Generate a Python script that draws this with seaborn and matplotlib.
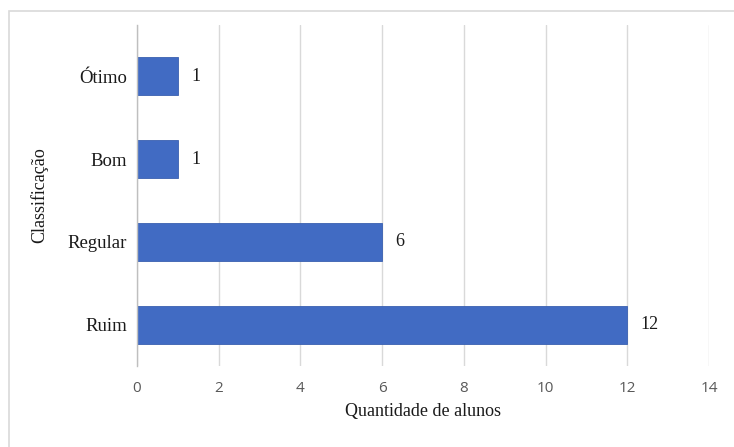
import matplotlib
matplotlib.use("Agg")
import matplotlib.pyplot as plt
import seaborn as sns
import pandas as pd
from matplotlib.patches import Rectangle

categories = ["Ótimo", "Bom", "Regular", "Ruim"]
values = [1, 1, 6, 12]
xticks = [0, 2, 4, 6, 8, 10, 12, 14]

df = pd.DataFrame({"Classificação": categories, "Quantidade de alunos": values})

sns.set_theme(style="white")
plt.rcParams["font.family"] = ["Liberation Serif", "DejaVu Serif"]

fig = plt.figure(figsize=(7.34, 4.47), dpi=100)
ax = fig.add_axes([137 / 734, 1 - 366 / 447, (709 - 137) / 734, (366 - 25) / 447])

sns.barplot(data=df, x="Quantidade de alunos", y="Classificação", orient="h",
            color="#416BC3", saturation=1, width=0.46, ax=ax, edgecolor="#3A60B0",
            linewidth=0.6)

ax.set_xlim(0, 14)
ax.set_ylim(3.5, -0.62)
ax.set_xticks(xticks)
ax.set_xticklabels([str(t) for t in xticks], family=["Open Sans", "DejaVu Sans"],
                   color="#595959", fontsize=11)
ax.tick_params(axis="x", length=0, pad=11)
ax.tick_params(axis="y", length=0, pad=7, labelsize=13.5, labelcolor="#1a1a1a")
ax.grid(axis="x", color="#d9d9d9", linewidth=1)
ax.set_axisbelow(True)
for s in ["top", "right", "bottom"]:
    ax.spines[s].set_visible(False)
ax.spines["left"].set_color("#bfbfbf")
ax.spines["left"].set_linewidth(1)

ax.set_xlabel("Quantidade de alunos", fontsize=13, color="#1a1a1a", labelpad=5)
ax.set_ylabel("Classificação", fontsize=13, color="#1a1a1a", labelpad=14)

for i, v in enumerate(values):
    ax.text(v + 0.32, i, str(v), va="center", ha="left", fontsize=13, color="#1a1a1a")

fig.patches.append(Rectangle((9 / 734, -0.1), 1.2, 1 - 11 / 447 + 0.1,
                             transform=fig.transFigure, fill=False,
                             edgecolor="#d9d9d9", linewidth=1.2))

fig.savefig("out.png", dpi=100)
